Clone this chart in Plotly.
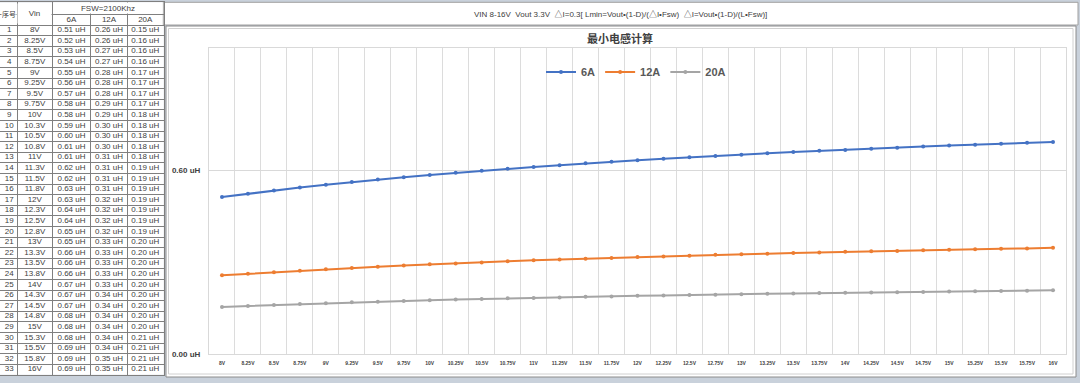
import plotly.graph_objects as go

W, H = 1080, 383

# ---------------- data ----------------
vin_chart = ["8V", "8.25V", "8.5V", "8.75V", "9V", "9.25V", "9.5V", "9.75V", "10V",
             "10.25V", "10.5V", "10.75V", "11V", "11.25V", "11.5V", "11.75V", "12V",
             "12.25V", "12.5V", "12.75V", "13V", "13.25V", "13.5V", "13.75V", "14V",
             "14.25V", "14.5V", "14.75V", "15V", "15.25V", "15.5V", "15.75V", "16V"]

vin_table = ["8V", "8.25V", "8.5V", "8.75V", "9V", "9.25V", "9.5V", "9.75V", "10V",
             "10.3V", "10.5V", "10.8V", "11V", "11.3V", "11.5V", "11.8V", "12V",
             "12.3V", "12.5V", "12.8V", "13V", "13.3V", "13.5V", "13.8V", "14V",
             "14.3V", "14.5V", "14.8V", "15V", "15.3V", "15.5V", "15.8V", "16V"]

row_no = list(range(1, 34))

t6 = [0.51, 0.52, 0.53, 0.54, 0.55, 0.56, 0.57, 0.58, 0.58, 0.59, 0.60, 0.61, 0.61,
      0.62, 0.62, 0.63, 0.63, 0.64, 0.64, 0.65, 0.65, 0.66, 0.66, 0.66, 0.67, 0.67,
      0.67, 0.68, 0.68, 0.68, 0.69, 0.69, 0.69]
t12 = [0.26, 0.26, 0.27, 0.27, 0.28, 0.28, 0.28, 0.29, 0.29, 0.30, 0.30, 0.30, 0.31,
       0.31, 0.31, 0.31, 0.32, 0.32, 0.32, 0.32, 0.33, 0.33, 0.33, 0.33, 0.33, 0.34,
       0.34, 0.34, 0.34, 0.34, 0.34, 0.35, 0.35]
t20 = [0.15, 0.16, 0.16, 0.16, 0.17, 0.17, 0.17, 0.17, 0.18, 0.18, 0.18, 0.18, 0.18,
       0.19, 0.19, 0.19, 0.19, 0.19, 0.19, 0.19, 0.20, 0.20, 0.20, 0.20, 0.20, 0.20,
       0.20, 0.20, 0.20, 0.21, 0.21, 0.21, 0.21]

# chart curves (uH), estimated from the plotted lines
l6 = [0.513, 0.524, 0.534, 0.544, 0.553, 0.562, 0.570, 0.578, 0.585, 0.592, 0.599,
      0.605, 0.611, 0.617, 0.623, 0.628, 0.633, 0.638, 0.643, 0.647, 0.651, 0.656,
      0.660, 0.664, 0.667, 0.671, 0.674, 0.678, 0.681, 0.684, 0.687, 0.690, 0.693]
l12 = [0.257, 0.262, 0.267, 0.272, 0.277, 0.281, 0.285, 0.289, 0.293, 0.296, 0.299,
       0.303, 0.306, 0.309, 0.311, 0.314, 0.317, 0.319, 0.321, 0.324, 0.326, 0.328,
       0.330, 0.332, 0.334, 0.336, 0.337, 0.339, 0.341, 0.342, 0.344, 0.345, 0.347]
l20 = [0.154, 0.157, 0.160, 0.163, 0.166, 0.169, 0.171, 0.173, 0.176, 0.178, 0.180,
       0.182, 0.183, 0.185, 0.187, 0.188, 0.190, 0.191, 0.193, 0.194, 0.195, 0.197,
       0.198, 0.199, 0.200, 0.201, 0.202, 0.203, 0.204, 0.205, 0.206, 0.207, 0.208]

series_names = ["6A", "12A", "20A"]
series_colors = ["#4472C4", "#ED7D31", "#A5A5A5"]

y_tickvals = [0, 0.6]
y_ticktext = ["0.00 uH", "0.60 uH"]

title_text = "最小电感计算"
formula_text = "VIN 8-16V  Vout 3.3V  △I=0.3[ Lmin=Vout•(1-D)/(△I•Fsw)  △I=Vout•(1-D)/(L•Fsw)]"
fsw_text = "FSW=2100Khz"
head_no = "序号"
head_vin = "Vin"

FONT = "Liberation Sans, Arial, Noto Sans CJK SC, sans-serif"
CJK = "Noto Sans CJK SC, Liberation Sans, sans-serif"
TXT = "#404040"

# ---------------- table geometry (pixel units on its own axes) ----------------
T_TOP, T_HMID, T_HBOT, ROW_H = 2.3, 14.3, 25.0, 10.6
N_ROWS = len(row_no)
T_BOT = T_HBOT + ROW_H * N_ROWS
col_edges = [1.0, 17.3, 52.3, 90.7, 127.3, 163.3]
col_mid = [(a + b) / 2 for a, b in zip(col_edges[:-1], col_edges[1:])]
row_edges = [T_TOP, T_HMID, T_HBOT] + [T_HBOT + ROW_H * (i + 1) for i in range(N_ROWS)]
row_mid = [T_HBOT + ROW_H * (i + 0.5) for i in range(N_ROWS)]


def px(x):
    return x / W


def py(y):
    return 1 - y / H


fig = go.Figure()

# table body text
table_cols = [
    [str(v) for v in row_no],
    vin_table,
    [f"{v:.2f} uH" for v in t6],
    [f"{v:.2f} uH" for v in t12],
    [f"{v:.2f} uH" for v in t20],
]
for cx, col in zip(col_mid, table_cols):
    fig.add_trace(go.Scatter(
        x=[cx] * N_ROWS, y=row_mid, text=col, mode="text",
        textposition="middle center",
        textfont=dict(family=FONT, size=8, color=TXT),
        xaxis="x2", yaxis="y2", showlegend=False, hoverinfo="skip", cliponaxis=False,
    ))
# header second row (currents)
fig.add_trace(go.Scatter(
    x=col_mid[2:], y=[(T_HMID + T_HBOT) / 2] * 3, text=series_names, mode="text",
    textposition="middle center",
    textfont=dict(family=FONT, size=8, color=TXT),
    xaxis="x2", yaxis="y2", showlegend=False, hoverinfo="skip", cliponaxis=False,
))

# ---------------- chart ----------------
for name, ys, col in zip(series_names, [l6, l12, l20], series_colors):
    fig.add_trace(go.Scatter(
        x=vin_chart, y=ys, name=name, mode="lines+markers",
        line=dict(color=col, width=2),
        marker=dict(color=col, size=4),
    ))

shapes = [
    # header bar
    dict(type="rect", xref="paper", yref="paper", x0=px(163.3), x1=px(1078), y0=py(25), y1=py(2.3),
         fillcolor="white", line=dict(color="#a0a0a0", width=1), layer="below"),
    # chart area
    dict(type="rect", xref="paper", yref="paper", x0=px(166), x1=px(1076), y0=py(377), y1=py(26),
         fillcolor="white", line=dict(color="#8c8c8c", width=1), layer="below"),
    dict(type="rect", xref="paper", yref="paper", x0=px(168.5), x1=px(1073), y0=py(374), y1=py(28.5),
         fillcolor="white", line=dict(color="#d0d0d0", width=1), layer="below"),
]

annotations = [
    dict(text=formula_text, x=px(620), y=py(15), xref="paper", yref="paper",
         xanchor="center", yanchor="middle", showarrow=False,
         font=dict(family=FONT, size=8, color=TXT)),
    dict(text=head_no, x=(col_edges[0] + col_edges[1]) / 2, y=(T_TOP + T_HBOT) / 2, xref="x2", yref="y2",
         xanchor="center", yanchor="middle", showarrow=False, width=14, height=19,
         bgcolor="white", borderpad=0, font=dict(family=CJK, size=7, color=TXT)),
    dict(text=head_vin, x=(col_edges[1] + col_edges[2]) / 2, y=(T_TOP + T_HBOT) / 2, xref="x2", yref="y2",
         xanchor="center", yanchor="middle", showarrow=False, width=33, height=19,
         bgcolor="white", borderpad=0, font=dict(family=FONT, size=8, color=TXT)),
    dict(text=fsw_text, x=(col_edges[2] + col_edges[5]) / 2, y=(T_TOP + T_HMID) / 2, xref="x2", yref="y2",
         xanchor="center", yanchor="middle", showarrow=False, width=108, height=10,
         bgcolor="white", borderpad=0, font=dict(family=FONT, size=8, color=TXT)),
]

fig.update_layout(
    template="none",
    width=W, height=H, autosize=False,
    margin=dict(l=0, r=0, t=0, b=0, pad=0, autoexpand=False),
    paper_bgcolor="#c9d1db",
    plot_bgcolor="white",
    font=dict(family=FONT, color=TXT),
    title=dict(text=title_text, x=px(620), y=py(39), xanchor="center", yanchor="middle",
               xref="paper", yref="paper", automargin=False,
               font=dict(family=CJK, size=11, color=TXT, weight="bold")),
    xaxis=dict(domain=[px(209), px(1066)], type="category", tickson="boundaries",
               range=[-0.5, len(vin_chart) - 0.5], automargin=False,
               showgrid=True, gridcolor="#dcdcdc", gridwidth=1,
               showline=True, linecolor="#d9d9d9", mirror=True, ticks="",
               tickangle=0, ticklabelstandoff=4, zeroline=False,
               tickfont=dict(family=FONT, size=5, color=TXT, weight="bold"),
               fixedrange=True),
    yaxis=dict(domain=[py(354), py(48)], range=[0, 1.0], tickvals=y_tickvals, ticktext=y_ticktext,
               automargin=False,
               showgrid=True, gridcolor="#d9d9d9", zeroline=False,
               showline=True, linecolor="#d9d9d9", mirror=True, ticks="",
               ticklabelstandoff=6,
               tickfont=dict(family=FONT, size=8, color=TXT, weight="bold"),
               fixedrange=True),
    xaxis2=dict(domain=[0, px(col_edges[-1] + 0.5)], range=[0, col_edges[-1] + 0.5],
                tickvals=col_edges[1:-1], showgrid=True, gridcolor="#7f7f7f", gridwidth=1,
                showticklabels=False, ticks="", zeroline=False, automargin=False,
                showline=True, linecolor="#7f7f7f", mirror=True, anchor="y2", fixedrange=True),
    yaxis2=dict(domain=[py(T_BOT), py(T_TOP)], range=[T_BOT, T_TOP],
                tickvals=row_edges[1:-1], showgrid=True, gridcolor="#7f7f7f", gridwidth=1,
                showticklabels=False, ticks="", zeroline=False, automargin=False,
                showline=True, linecolor="#7f7f7f", mirror=True, anchor="x2", fixedrange=True),
    legend=dict(orientation="h", x=px(636), xanchor="center", y=py(72), yanchor="middle",
                bgcolor="rgba(0,0,0,0)", borderwidth=0,
                font=dict(family=FONT, size=11, color="#595959", weight="bold"),
                itemwidth=30),
    shapes=shapes,
    annotations=annotations,
    showlegend=True,
)

page_fix = (
    "document.documentElement.style.margin='0';"
    "document.documentElement.style.overflow='hidden';"
    "document.body.style.margin='0';document.body.style.padding='0';"
    "document.body.style.overflow='hidden';"
    "document.body.style.lineHeight='0';document.body.style.fontSize='0';"
)

fig.write_html("out.html", config={"displayModeBar": False, "staticPlot": True},
               post_script=page_fix)
